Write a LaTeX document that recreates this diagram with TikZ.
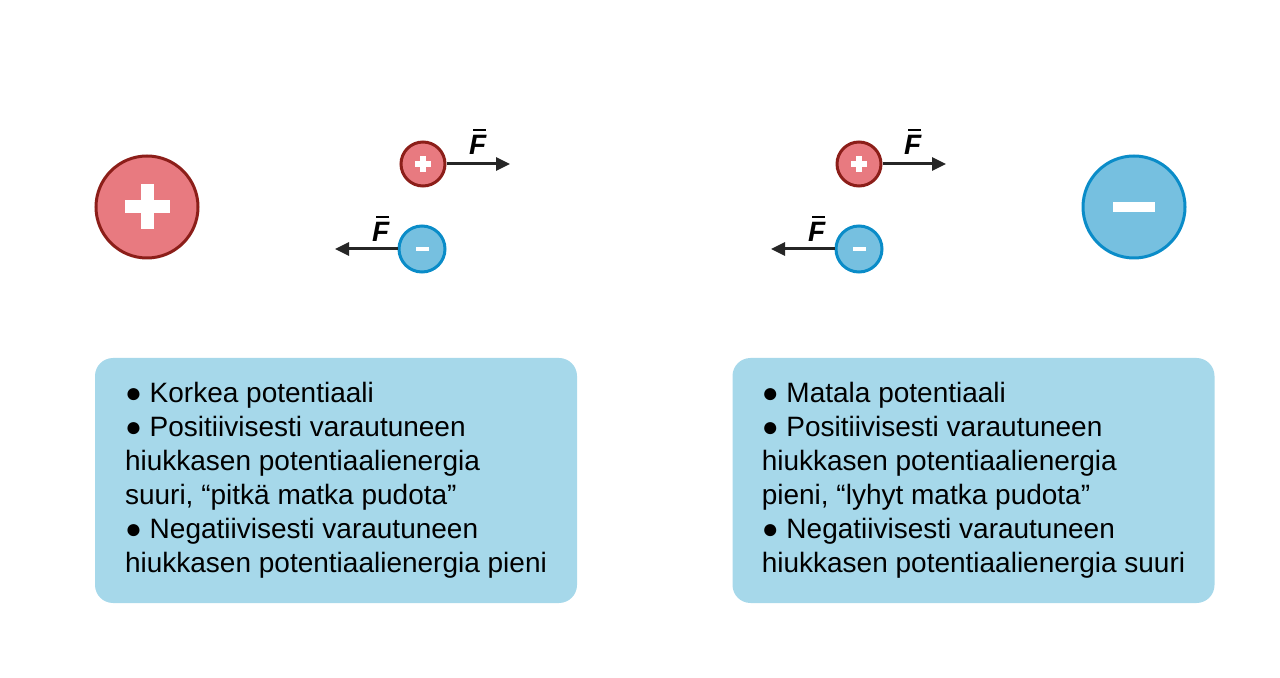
\documentclass[tikz,border=0pt]{standalone}
\usepackage{fontspec}
\setmainfont{Liberation Sans}
\usetikzlibrary{arrows.meta}
\definecolor{posfill}{RGB}{232,122,128}
\definecolor{posline}{RGB}{140,30,25}
\definecolor{negfill}{RGB}{118,192,224}
\definecolor{negline}{RGB}{10,140,200}
\definecolor{boxfill}{RGB}{166,216,234}
\tikzset{
	poscharge/.style={circle, draw=posline, fill=posfill, line width=1.5pt, inner sep=0pt},
	negcharge/.style={circle, draw=negline, fill=negfill, line width=1.5pt, inner sep=0pt},
	force/.style={-{Triangle[length=7pt,width=6.5pt]}, line width=1.5pt, black!85},
	flabel/.style={inner sep=0pt, font=\fontsize{14}{16}\selectfont},
	infobox/.style={fill=boxfill, rounded corners=9pt, minimum width=241pt, minimum height=122.5pt, align=left, font=\fontsize{14}{17}\selectfont}
}
\newcommand{\Fvec}{\textbf{\textit{F}}\llap{\rule[11.8pt]{6.5pt}{1pt}\hspace{0.3pt}}}
\begin{document}
\begin{tikzpicture}[x=0.5pt, y=-0.5pt]
	\useasboundingbox (0,0) rectangle (1280,678);
	% Suuret varaukset
	\node[poscharge, minimum size=51pt] (bigplus) at (147,207) {};
	\node[negcharge, minimum size=51pt] (bigminus) at (1134,207) {};
	% Pienet varaukset
	\node[poscharge, minimum size=22pt] (plusL) at (423,164) {};
	\node[negcharge, minimum size=23pt] (minusL) at (422,249) {};
	\node[poscharge, minimum size=22pt] (plusR) at (859,164) {};
	\node[negcharge, minimum size=23pt] (minusR) at (859,249) {};
	% Merkit
	\foreach \c/\a/\t in {bigplus/22.5/6.5, plusL/8/3, plusR/8/3}{
		\fill[white] ([shift={(-\a,-\t)}]\c.center) rectangle ([shift={(\a,\t)}]\c.center);
		\fill[white] ([shift={(-\t,-\a)}]\c.center) rectangle ([shift={(\t,\a)}]\c.center);
	}
	\foreach \c/\a/\t in {bigminus/21/5, minusL/6.5/2.2, minusR/6.5/2.2}{
		\fill[white] ([shift={(-\a,-\t)}]\c.center) rectangle ([shift={(\a,\t)}]\c.center);
	}
	% Voimat
	\coordinate (tipPL) at (510,164);
	\coordinate (tipML) at (335,249);
	\coordinate (tipPR) at (946,164);
	\coordinate (tipMR) at (771,249);
	\draw[force] (plusL) -- (tipPL);
	\draw[force] (minusL) -- (tipML);
	\draw[force] (plusR) -- (tipPR);
	\draw[force] (minusR) -- (tipMR);
	\node[flabel] (fPL) at (478,142) {\Fvec};
	\node[flabel] (fML) at (381,229) {\Fvec};
	\node[flabel] (fPR) at (913,142) {\Fvec};
	\node[flabel] (fMR) at (817,229) {\Fvec};
	% Tekstilaatikot
	\node[infobox] (boxL) at (336,480.5) {● Korkea potentiaali\\
		● Positiivisesti varautuneen\\
		hiukkasen potentiaalienergia\\
		suuri, “pitkä matka pudota”\\
		● Negatiivisesti varautuneen\\
		hiukkasen potentiaalienergia pieni};
	\node[infobox] (boxR) at (973.5,480.5) {● Matala potentiaali\\
		● Positiivisesti varautuneen\\
		hiukkasen potentiaalienergia\\
		pieni, “lyhyt matka pudota”\\
		● Negatiivisesti varautuneen\\
		hiukkasen potentiaalienergia suuri};
\end{tikzpicture}
\end{document}
